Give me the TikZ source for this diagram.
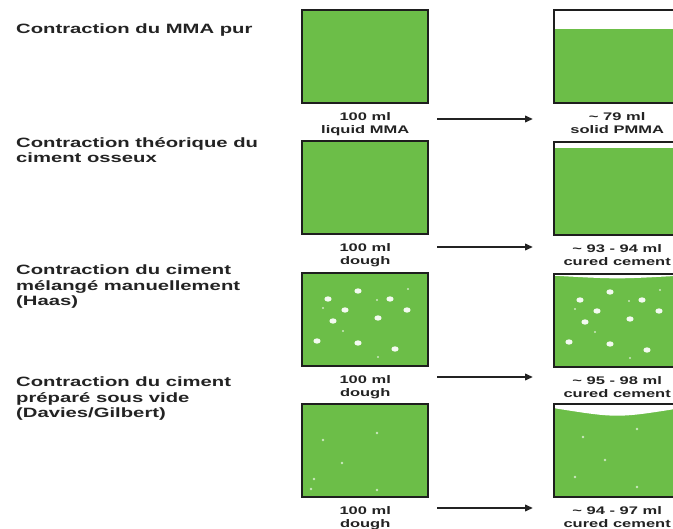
\documentclass[tikz,border=0pt]{standalone}
\usepackage{fontspec}
\setmainfont{Liberation Sans}[FakeStretch=1.5]
\usetikzlibrary{arrows.meta}
\definecolor{cgreen}{RGB}{108,190,72}
\definecolor{cborder}{RGB}{30,30,30}
\definecolor{ctext}{RGB}{35,35,35}
\begin{document}
\begin{tikzpicture}[x=1pt,y=-1pt,
  box/.style={draw=cborder, line width=2.4pt, fill=cgreen, minimum width=126pt, minimum height=93pt, anchor=north west, inner sep=0pt},
  rowlab/.style={anchor=north west, inner sep=0pt, align=left, text=ctext, font=\fontsize{13.5}{15.5}\selectfont\bfseries},
  vollab/.style={anchor=north, inner sep=0pt, align=center, text=ctext, font=\fontsize{11}{13}\selectfont\bfseries},
  arr/.style={draw=ctext, line width=2pt, -{Triangle[length=8pt,width=6.5pt]}},
  bubble/.style={fill=white!92!cgreen},
  speck/.style={fill=white!65!cgreen}]
\useasboundingbox (0,0) rectangle (673,529);
\clip (0,0) rectangle (673,529);
\fill[white] (0,0) rectangle (673,529);

% Row 1
\node[rowlab] (t1) at (16,24) {Contraction du MMA pur};
\node[box] (a1) at (301,9) {};
\node[box, path picture={\fill[white] (path picture bounding box.north west) rectangle ([yshift=-19pt]path picture bounding box.north east);}] (b1) at (553,9) {};
\node[vollab] (l1a) at ([yshift=-7.5pt]a1.south) {100 ml\\liquid MMA};
\node[vollab] (l1b) at ([yshift=-7.5pt]b1.south) {\textasciitilde\ 79 ml\\solid PMMA};
\coordinate (s1) at (437,119);
\coordinate (e1) at (533,119);
\draw[arr] (s1) -- (e1);

% Row 2
\node[rowlab] (t2) at (16,137) {Contraction théorique du\\ciment osseux};
\node[box] (a2) at (301,140) {};
\node[box, path picture={\fill[white] (path picture bounding box.north west) rectangle ([yshift=-6pt]path picture bounding box.north east);}] (b2) at (553,141) {};
\node[vollab] (l2a) at ([yshift=-7.5pt]a2.south) {100 ml\\dough};
\node[vollab] (l2b) at ([yshift=-7.5pt]b2.south) {\textasciitilde\ 93 - 94 ml\\cured cement};
\coordinate (s2) at (437,247);
\coordinate (e2) at (533,247);
\draw[arr] (s2) -- (e2);

% Row 3
\node[rowlab] (t3) at (16,265) {Contraction du ciment\\mélangé manuellement\\(Haas)};
\node[box] (a3) at (301,272) {};
\node[box, path picture={\fill[white] (path picture bounding box.north west) -- (path picture bounding box.north east) -- ([yshift=-1.5pt]path picture bounding box.north east) .. controls ([yshift=-5pt]path picture bounding box.north) .. ([yshift=-1.5pt]path picture bounding box.north west) -- cycle;}] (b3) at (553,273) {};
\foreach \bx in {a3,b3}{
  \begin{scope}[shift={(\bx.north west)}]
    \foreach \x/\y in {57/19,27/27,89/27,44/38,106/38,32/49,77/46,16/69,57/71,94/77}
      \fill[bubble] (\x,\y) ellipse[x radius=3.6pt, y radius=2.7pt];
    \foreach \x/\y in {76/28,22/36,42/59,77/85,107/17}
      \fill[speck] (\x,\y) circle[radius=1.1pt];
  \end{scope}
}
\node[vollab] (l3a) at ([yshift=-7.5pt]a3.south) {100 ml\\dough};
\node[vollab] (l3b) at ([yshift=-7.5pt]b3.south) {\textasciitilde\ 95 - 98 ml\\cured cement};
\coordinate (s3) at (437,377);
\coordinate (e3) at (533,377);
\draw[arr] (s3) -- (e3);

% Row 4
\node[rowlab] (t4) at (16,377) {Contraction du ciment\\préparé sous vide\\(Davies/Gilbert)};
\node[box] (a4) at (301,403) {};
\node[box, path picture={\fill[white] (path picture bounding box.north west) -- (path picture bounding box.north east) -- ([yshift=-4pt]path picture bounding box.north east) .. controls ([yshift=-14pt]path picture bounding box.north) .. ([yshift=-4pt]path picture bounding box.north west) -- cycle;}] (b4) at (553,403) {};
\begin{scope}[shift={(a4.north west)}]
  \foreach \x/\y in {22/37,76/30,41/60,13/76,76/87,10/86}
    \fill[speck] (\x,\y) circle[radius=1.3pt];
\end{scope}
\begin{scope}[shift={(b4.north west)}]
  \foreach \x/\y in {30/34,84/26,52/57,22/74,84/84}
    \fill[speck] (\x,\y) circle[radius=1.4pt];
\end{scope}
\node[vollab] (l4a) at ([yshift=-7.5pt]a4.south) {100 ml\\dough};
\node[vollab] (l4b) at ([yshift=-7.5pt]b4.south) {\textasciitilde\ 94 - 97 ml\\cured cement};
\coordinate (s4) at (437,508);
\coordinate (e4) at (533,508);
\draw[arr] (s4) -- (e4);
\end{tikzpicture}
\end{document}
